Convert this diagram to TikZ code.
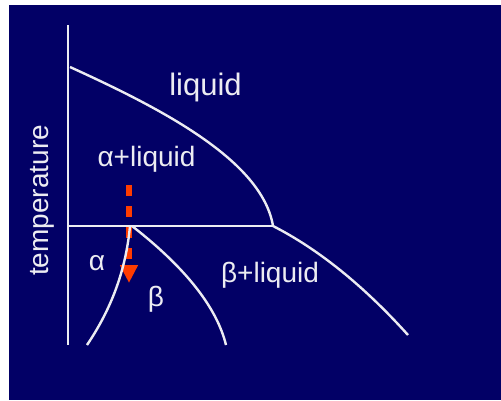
\documentclass[tikz,border=0pt]{standalone}
\usepackage{fontspec}
\setmainfont{Liberation Sans}
\usetikzlibrary{arrows.meta}
\definecolor{slidebg}{RGB}{2,0,102}
\definecolor{phaseline}{RGB}{236,236,242}
\definecolor{coolarrow}{RGB}{255,60,0}

\begin{document}
\begin{tikzpicture}[x=1pt,y=-1pt]
\tikzset{
  bd/.style={draw=phaseline,line width=2.4pt},
  lb/.style={text=phaseline,inner sep=0pt,anchor=base,font=\fontsize{28}{32}\selectfont},
  ca/.style={draw=coolarrow,line width=6pt,dash pattern=on 11pt off 10pt,-{Triangle[length=18pt,width=17pt]}}
}
\useasboundingbox (0,0) rectangle (501,400);
\fill[white] (0,0) rectangle (501,400);
\fill[slidebg] (9,5) rectangle (501,400);
% points of the phase diagram
\coordinate (top) at (68,25);
\coordinate (bot) at (68,345);
\coordinate (tA) at (70,67);
\coordinate (ax) at (68,226);
\coordinate (eu) at (273,226);
\coordinate (sa) at (130,226);
\coordinate (sb) at (132,226);
\coordinate (ea) at (87,345);
\coordinate (eb) at (226,345);
\coordinate (er) at (408,335);
\coordinate (cs) at (129,185);
\coordinate (ce) at (129,283);
% cooling path
\draw[ca] (cs) -- (ce);
% axis, eutectic line and boundaries
\draw[bd] (top) -- (bot);
\draw[bd] (ax) -- (eu);
\draw[bd] (tA) .. controls (160,108) and (262,160) .. (eu);
\draw[bd] (eu) .. controls (318,249) and (363,285) .. (er);
\draw[bd] (sa) .. controls (126,269) and (112,308) .. (ea);
\draw[bd] (sb) .. controls (186,268) and (217,308) .. (eb);
% phase labels
\node[lb,font=\fontsize{31}{36}\selectfont] (liq) at (205.5,95) {liquid};
\node[lb] (aliq) at (146.5,166) {α+liquid};
\node[lb,rotate=90] (temp) at (48,200.5) {temperature};
\node[lb] (al) at (97,270) {α};
\node[lb] (be) at (156,306) {β};
\node[lb] (bliq) at (270,282) {β+liquid};
\end{tikzpicture}
\end{document}
